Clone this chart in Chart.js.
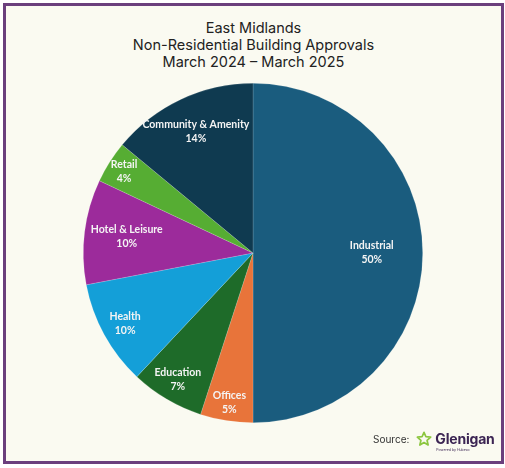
<!DOCTYPE html>
<html>
<head>
<meta charset="utf-8">
<script src="https://cdn.jsdelivr.net/npm/chart.js@4.4.1/dist/chart.umd.min.js"></script>
<style>
    html, body { margin: 0; padding: 0; background: #ffffff; }
    #frame {
        position: absolute; left: 3px; top: 3px; width: 495px; height: 455px;
        border: 3px solid #6b3f7d; background: #fafaf1;
    }
    #title {
        position: absolute; left: 0; top: 13px; width: 100%; text-align: center;
        font-family: Inter, sans-serif; font-size: 14.5px; line-height: 17px; color: #222;
    }
    #chart { position: absolute; left: -6px; top: -6px; }
    #source {
        position: absolute; left: 367px; top: 424px; font-family: Inter, sans-serif;
        font-size: 10px; color: #333; display: flex; align-items: center;
    }
    #brand { position: relative; margin-left: 7px; display: flex; align-items: center; }
    #brand b { font-size: 14px; color: #3b2453; margin-left: 3px; letter-spacing: -0.2px; }
    #brand small { position: absolute; left: 20px; top: 18px; font-size: 3.5px; color: #3b2453; }
</style>
</head>
<body>
<div id="frame">
    <div id="title">East Midlands<br>Non-Residential Building Approvals<br>March 2024 &ndash; March 2025</div>
    <canvas id="chart" width="505" height="468"></canvas>
    <div id="source">Source:
        <span id="brand">
            <svg width="16" height="16" viewBox="0 0 24 24"><polygon points="12,2 14.9,8.6 22,9.3 16.6,14 18.2,21 12,17.3 5.8,21 7.4,14 2,9.3 9.1,8.6" fill="none" stroke="#8cc63f" stroke-width="2.6" stroke-linejoin="round"/></svg>
            <b>Glenigan</b><small>Powered by Hubexo</small>
        </span>
    </div>
</div>
<script>
const categories = ['Industrial', 'Offices', 'Education', 'Health', 'Hotel & Leisure', 'Retail', 'Community & Amenity'];
const shares = [50, 5, 7, 10, 10, 4, 14];
const colours = ['#1a5c7e', '#e8743a', '#1e6b29', '#149fd8', '#9c2b9b', '#56ad33', '#0f3a50'];
// how far out from the centre each label sits (fraction of radius)
const labelRadius = [0.70, 0.89, 0.87, 0.86, 0.75, 0.90, 0.79];

const sliceLabels = {
    id: 'sliceLabels',
    afterDatasetsDraw(chart) {
        const ctx = chart.ctx;
        const meta = chart.getDatasetMeta(0);
        ctx.save();
        ctx.fillStyle = '#f4f4f4';
        ctx.font = 'bold 10.5px Lato, sans-serif';
        ctx.textAlign = 'center';
        ctx.textBaseline = 'middle';
        meta.data.forEach((arc, i) => {
            const mid = (arc.startAngle + arc.endAngle) / 2;
            const r = arc.outerRadius * labelRadius[i];
            const x = arc.x + Math.cos(mid) * r;
            const y = arc.y + Math.sin(mid) * r;
            ctx.fillText(categories[i], x, y - 7);
            ctx.fillText(shares[i] + '%', x, y + 7);
        });
        ctx.restore();
    }
};

new Chart(document.getElementById('chart'), {
    type: 'pie',
    data: {
        labels: categories,
        datasets: [{
            data: shares,
            backgroundColor: colours,
            borderWidth: 0.6,
            borderColor: 'rgba(255,255,255,0.25)'
        }]
    },
    options: {
        responsive: false,
        animation: false,
        layout: { padding: { left: 83, right: 82, top: 83, bottom: 45 } },
        plugins: {
            legend: { display: false },
            tooltip: { enabled: false }
        }
    },
    plugins: [sliceLabels]
});
</script>
</body>
</html>
